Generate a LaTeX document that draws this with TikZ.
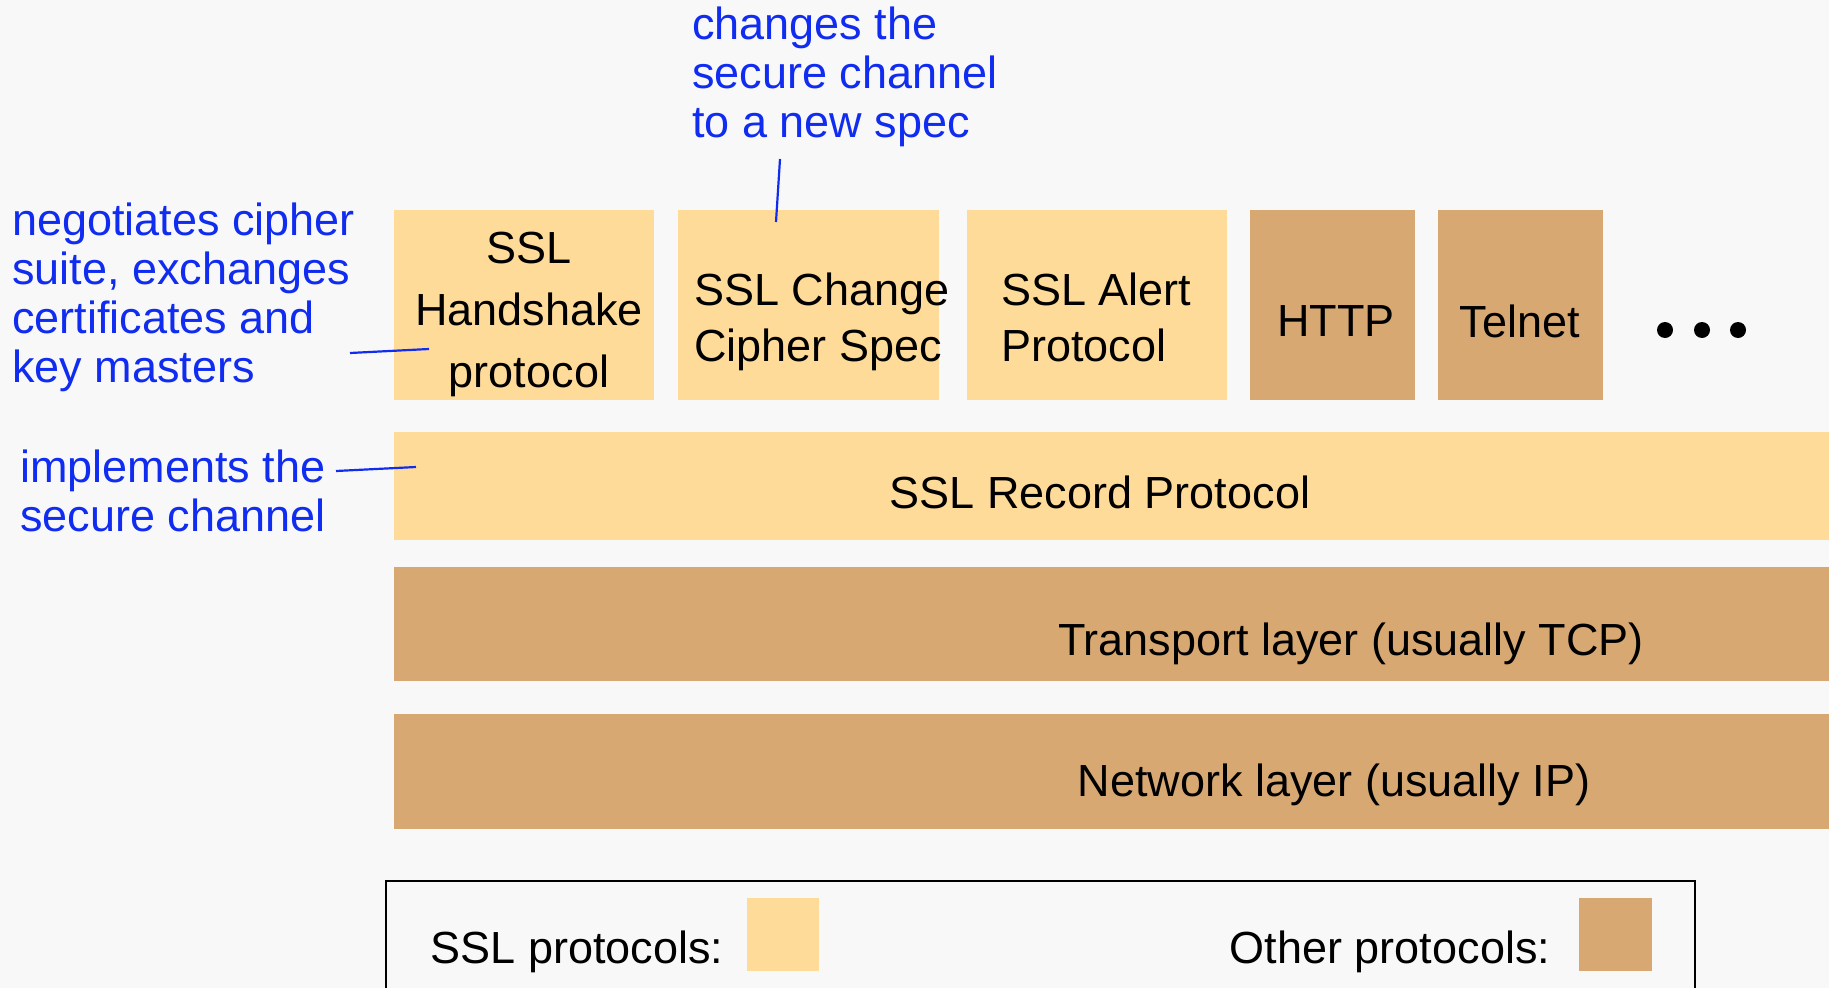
\documentclass[tikz,border=0pt]{standalone}
\usepackage{fontspec}
\setmainfont{Liberation Sans}
\definecolor{sslc}{RGB}{255,219,153}
\definecolor{othc}{RGB}{216,168,114}
\definecolor{annc}{RGB}{16,44,240}
\definecolor{bgc}{RGB}{248,248,248}
\begin{document}
\begin{tikzpicture}[x=1pt,y=-1pt,
  box/.style={rectangle,inner sep=0pt,outer sep=0pt,draw=none},
  ssl/.style={box,fill=sslc},
  oth/.style={box,fill=othc},
  lbl/.style={inner sep=0pt,font=\fontsize{45}{56}\selectfont,text=black},
  ann/.style={inner sep=0pt,font=\fontsize{45}{49}\selectfont,text=annc,align=left},
  annline/.style={draw=annc,line width=2.2pt}]
\useasboundingbox (0,0) rectangle (1829,988);
\fill[bgc] (0,0) rectangle (1829,988);
% upper boxes
\node[ssl,minimum width=260,minimum height=190] (hs) at (524,305) {};
\node[ssl,minimum width=261,minimum height=190] (ccs) at (808.5,305) {};
\node[ssl,minimum width=260,minimum height=190] (al) at (1097,305) {};
\node[oth,minimum width=165,minimum height=190] (http) at (1332.5,305) {};
\node[oth,minimum width=165,minimum height=190] (tel) at (1520.5,305) {};
% layers
\node[ssl,minimum width=1435,minimum height=108] (rec) at (1111.5,486) {};
\node[oth,minimum width=1435,minimum height=114] (tr) at (1111.5,624) {};
\node[oth,minimum width=1435,minimum height=115] (nw) at (1111.5,771.5) {};
% texts
\node[lbl,align=center,font=\fontsize{45}{62}\selectfont] (hst) at (529,314) {SSL\\Handshake\\protocol};
\node[lbl,align=left,anchor=west] (ccst) at (694,322) {SSL Change\\Cipher Spec};
\node[lbl,align=left,anchor=west] (alt) at (1001,317) {SSL Alert\\Protocol};
\node[lbl] (httpt) at (1336,321) {HTTP};
\node[lbl] (telt) at (1520,321) {Telnet};
\node[lbl] (rect) at (1100,492) {SSL Record Protocol};
\node[lbl] (trt) at (1351,644) {Transport layer (usually TCP)};
\node[lbl] (nwt) at (1334,785) {Network layer (usually IP)};
% dots
\fill (1665,330) circle (8);
\fill (1702,330) circle (8);
\fill (1738,330) circle (8);
% annotations
\node[ann,anchor=west] (a1) at (12,297) {negotiates cipher\\suite, exchanges\\certificates and\\key masters};
\node[ann,anchor=west] (a2) at (20,491) {implements the\\secure channel};
\node[ann,anchor=west] (a3) at (692,77) {changes the\\secure channel\\to a new spec};
\coordinate (c1a) at (350,353);
\coordinate (c1b) at (429,349);
\coordinate (c2a) at (336,471);
\coordinate (c2b) at (416,467);
\coordinate (c3a) at (780,159);
\coordinate (c3b) at (776,222);
\draw[annline] (c1a) -- (c1b);
\draw[annline] (c2a) -- (c2b);
\draw[annline] (c3a) -- (c3b);
% legend
\draw[line width=2.5pt] (386,1000) -- (386,881) -- (1695,881) -- (1695,1000);
\node[lbl] (lg1) at (577,952) {SSL protocols:};
\node[ssl,minimum width=72,minimum height=73] (sw1) at (783,934.5) {};
\node[lbl] (lg2) at (1390,952) {Other protocols:};
\node[oth,minimum width=73,minimum height=73] (sw2) at (1615.5,934.5) {};
\end{tikzpicture}
\end{document}
